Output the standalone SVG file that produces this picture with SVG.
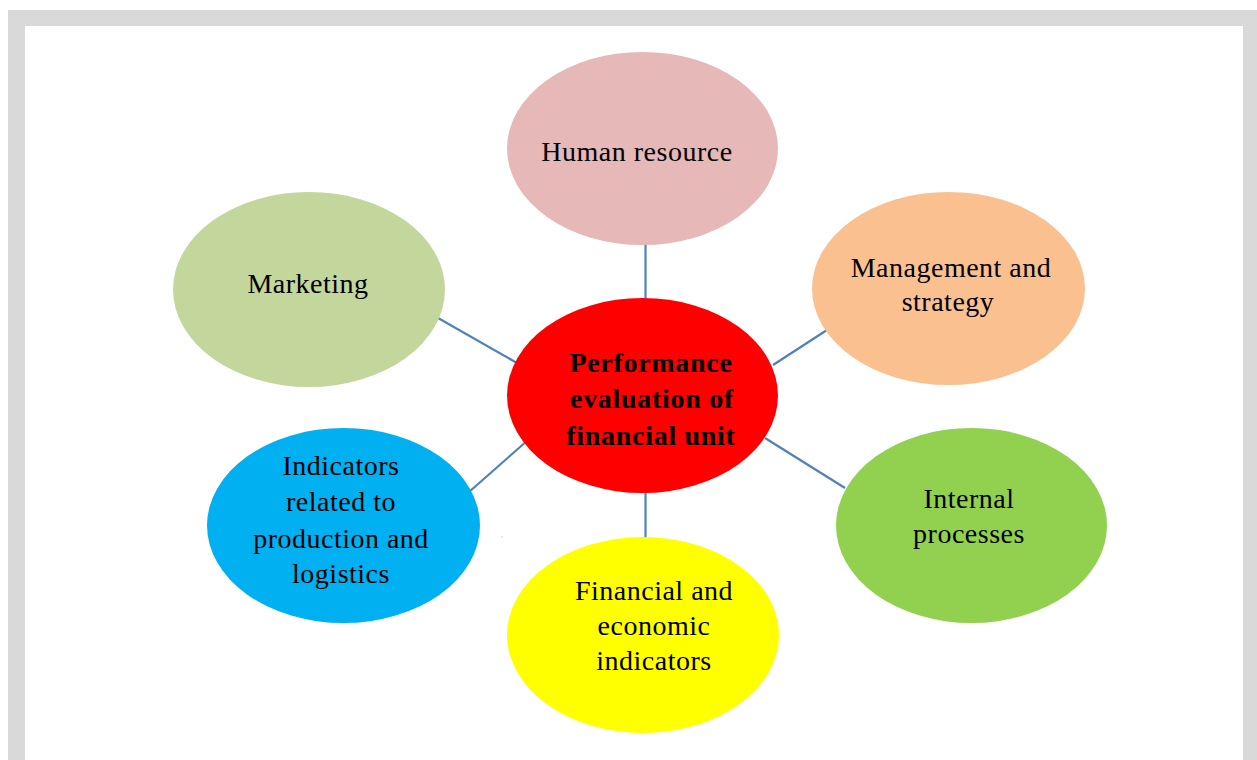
<svg xmlns="http://www.w3.org/2000/svg" width="1257" height="760" viewBox="0 0 1257 760">
<style>
.t{font-family:"Liberation Serif","Times New Roman",serif;font-size:28px;fill:#000;text-anchor:middle;letter-spacing:0.5px}
.b{font-weight:bold;letter-spacing:0.7px}
.c{stroke:#4f81bd;stroke-width:2.2;fill:none}
</style>
<rect x="0" y="0" width="1257" height="760" fill="#fff"/>
<rect x="8" y="10" width="1249" height="750" fill="#d9d9d9"/>
<rect x="25" y="26" width="1218" height="734" fill="#fff"/>
<g id="connectors">
<line class="c" x1="645.5" y1="243" x2="645.5" y2="299"/>
<line class="c" x1="438" y1="318" x2="517" y2="363"/>
<line class="c" x1="827" y1="330" x2="773" y2="365"/>
<line class="c" x1="469" y1="492" x2="528" y2="440"/>
<line class="c" x1="765" y1="438" x2="845" y2="488"/>
<line class="c" x1="645.5" y1="492" x2="645.5" y2="538"/>
</g>
<rect x="501.5" y="536.5" width="1" height="1" fill="#999"/>
<g id="center">
<ellipse cx="642.5" cy="395.5" rx="135.5" ry="97.5" fill="#ff0000"/>
<text class="t b" x="651" y="372">Performance</text>
<text class="t b" x="652" y="408">evaluation of</text>
<text class="t b" x="651" y="445">financial unit</text>
</g>
<g id="human">
<ellipse cx="642.5" cy="148.5" rx="135.5" ry="96.5" fill="#e6b8b7"/>
<text class="t" x="637" y="161">Human resource</text>
</g>
<g id="management">
<ellipse cx="948.5" cy="288.5" rx="136.5" ry="96.5" fill="#fac090"/>
<text class="t" x="951" y="277">Management and</text>
<text class="t" x="948" y="311">strategy</text>
</g>
<g id="marketing">
<ellipse cx="309" cy="289.5" rx="136" ry="97.5" fill="#c3d69b"/>
<text class="t" x="308" y="293">Marketing</text>
</g>
<g id="indicators">
<ellipse cx="343.5" cy="525.5" rx="136.5" ry="97.5" fill="#00b0f0"/>
<text class="t" x="341" y="475">Indicators</text>
<text class="t" x="341" y="511">related to</text>
<text class="t" x="341" y="548">production and</text>
<text class="t" x="341" y="583">logistics</text>
</g>
<g id="internal">
<ellipse cx="971.5" cy="525.5" rx="135.5" ry="97.5" fill="#92d050"/>
<text class="t" x="969" y="508">Internal</text>
<text class="t" x="969" y="543">processes</text>
</g>
<g id="financial">
<ellipse cx="643" cy="635" rx="136" ry="98" fill="#ffff00"/>
<text class="t" x="654" y="600">Financial and</text>
<text class="t" x="654" y="635">economic</text>
<text class="t" x="654" y="670">indicators</text>
</g>
</svg>
